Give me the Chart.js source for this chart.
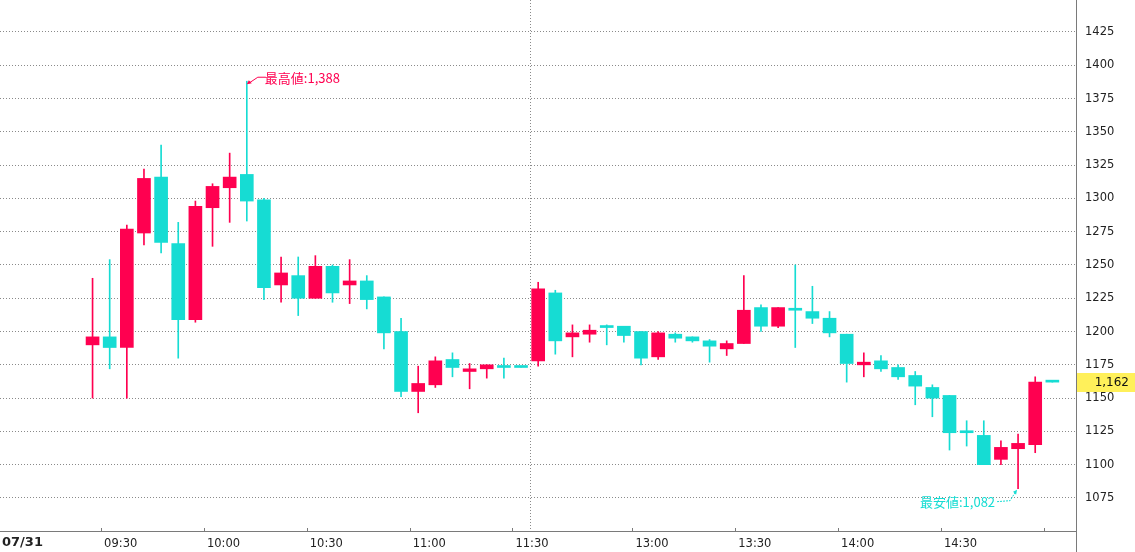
<!DOCTYPE html>
<html>
<head>
<meta charset="utf-8">
<script src="https://cdn.jsdelivr.net/npm/chart.js@4.4.1/dist/chart.umd.min.js"></script>
<style>
  html, body { margin: 0; padding: 0; background: #fff; }
  canvas { display: block; }
</style>
</head>
<body>
<canvas id="chart" width="1135" height="552"></canvas>
<script>
// 5-minute candles, 07/31
const times = ['09:25','09:30','09:35','09:40','09:45','09:50','09:55','10:00','10:05','10:10',
  '10:15','10:20','10:25','10:30','10:35','10:40','10:45','10:50','10:55','11:00',
  '11:05','11:10','11:15','11:20','11:25','11:30',
  '12:30','12:35','12:40','12:45','12:50','12:55','13:00','13:05','13:10','13:15',
  '13:20','13:25','13:30','13:35','13:40','13:45','13:50','13:55','14:00','14:05',
  '14:10','14:15','14:20','14:25','14:30','14:35','14:40','14:45','14:50','14:55','15:00'];
const opens  = [1190,1196,1188,1274,1316,1266,1209,1293,1308,1318,
  1299,1235,1242,1225,1249,1235,1238,1226,1200,1155,
  1160,1179,1170,1172,1174,1173,
  1178,1229,1196,1198,1204,1204,1200,1181,1198,1196,
  1193,1187,1191,1218,1204,1217,1215,1210,1198,1175,
  1178,1173,1167,1158,1152,1125,1122,1104,1112,1115,1162];
const highs  = [1240,1254,1280,1322,1340,1282,1298,1311,1334,1388,
  1300,1256,1256,1257,1250,1254,1242,1226,1210,1174,
  1181,1184,1176,1175,1180,1173,
  1237,1231,1205,1205,1205,1204,1200,1200,1199,1196,
  1194,1193,1242,1220,1218,1250,1234,1215,1198,1184,
  1182,1175,1170,1160,1152,1133,1133,1118,1123,1166,1162];
const lows   = [1150,1172,1150,1265,1259,1180,1207,1264,1282,1283,
  1224,1222,1212,1225,1222,1221,1217,1187,1151,1139,
  1158,1166,1157,1165,1165,1173,
  1174,1183,1181,1192,1190,1192,1175,1179,1192,1192,
  1177,1182,1191,1200,1203,1188,1206,1196,1162,1166,
  1170,1164,1145,1136,1111,1114,1100,1100,1082,1109,1162];
const closes = [1196,1188,1277,1315,1267,1209,1294,1309,1316,1298,
  1233,1244,1225,1249,1229,1238,1224,1199,1155,1161,
  1178,1173,1172,1175,1173,1173,
  1232,1193,1199,1201,1203,1197,1180,1199,1195,1193,
  1189,1191,1216,1204,1218,1216,1210,1199,1176,1177,
  1172,1166,1159,1150,1124,1124,1100,1113,1116,1162,1162];

const xLabels = ['09:30','10:00','10:30','11:00','11:30','13:00','13:30','14:00','14:30'];
const extraTicks = ['15:00'];
const yTicks = [1075,1100,1125,1150,1175,1200,1225,1250,1275,1300,1325,1350,1375,1400,1425];
const dateLabel = '07/31';
const lastPrice = 1162;
const highLabel = '最高値:1,388';
const lowLabel = '最安値:1,082';

const UP = '#ff0050';
const DOWN = '#16dcd3';

// slot index: morning from 09:00 (0..30), afternoon from 12:30 (31..61)
function slotOf(t) {
  const [h, m] = t.split(':').map(Number);
  const min = h * 60 + m;
  return min <= 690 ? (min - 540) / 5 : 31 + (min - 750) / 5;
}

const colors = times.map((t, i) => closes[i] > opens[i] ? UP : DOWN);
const bodies = times.map((t, i) => ({ x: slotOf(t) + 0.5, y: [opens[i], closes[i]] }));
const wicks = times.map((t, i) => ({ x: slotOf(t) + 0.5, y: [lows[i], highs[i]] }));

const hiIdx = highs.indexOf(Math.max(...highs));
const loIdx = lows.indexOf(Math.min(...lows));

const decor = {
  id: 'decor',
  beforeDatasetsDraw(chart) {
    const { ctx, chartArea: a, scales: { x } } = chart;
    ctx.save();
    // session break
    ctx.strokeStyle = '#8a8a8a';
    ctx.lineWidth = 1;
    ctx.setLineDash([1, 2]);
    const bx = Math.round(x.getPixelForValue(31)) + 0.5;
    ctx.beginPath();
    ctx.moveTo(bx, a.top);
    ctx.lineTo(bx, a.bottom);
    ctx.stroke();
    ctx.restore();
  },
  afterDraw(chart) {
    const { ctx, chartArea: a, scales: { x, y } } = chart;
    ctx.save();
    // axes lines
    ctx.strokeStyle = '#7a7a7a';
    ctx.lineWidth = 1;
    ctx.beginPath();
    ctx.moveTo(a.left, a.bottom + 0.5);
    ctx.lineTo(a.right, a.bottom + 0.5);
    ctx.moveTo(a.right + 0.5, 0);
    ctx.lineTo(a.right + 0.5, chart.height);
    ctx.stroke();
    // tick marks
    ctx.beginPath();
    xLabels.concat(extraTicks).forEach(t => {
      const px = Math.round(x.getPixelForValue(slotOf(t))) + 0.5;
      ctx.moveTo(px, a.bottom - 3);
      ctx.lineTo(px, a.bottom);
    });
    ctx.stroke();
    // date
    ctx.fillStyle = '#222';
    ctx.font = 'bold 13px "DejaVu Sans"';
    ctx.textBaseline = 'middle';
    ctx.textAlign = 'left';
    ctx.fillText(dateLabel, 2, 543);

    // last price box
    const py = y.getPixelForValue(lastPrice);
    ctx.fillStyle = '#fff05a';
    ctx.fillRect(a.right + 1, Math.round(py) - 9, chart.width - a.right - 1, 19);
    ctx.fillStyle = '#111';
    ctx.font = '12px "DejaVu Sans"';
    ctx.textAlign = 'right';
    ctx.fillText(lastPrice.toLocaleString('en-US'), chart.width - 6, Math.round(py) + 1);

    // high annotation
    const hx = x.getPixelForValue(slotOf(times[hiIdx]) + 0.5);
    const hy = y.getPixelForValue(highs[hiIdx]);
    ctx.strokeStyle = UP;
    ctx.fillStyle = UP;
    ctx.lineWidth = 1;
    ctx.beginPath();
    ctx.moveTo(hx + 19, hy - 4);
    ctx.lineTo(hx + 11, hy - 4);
    ctx.lineTo(hx + 2, hy + 2);
    ctx.stroke();
    ctx.beginPath();
    ctx.moveTo(hx, hy + 3);
    ctx.lineTo(hx + 5, hy + 2);
    ctx.lineTo(hx + 2, hy - 1);
    ctx.closePath();
    ctx.fill();
    ctx.font = '13px "Noto Sans CJK JP"';
    ctx.textAlign = 'left';
    ctx.fillText(highLabel, hx + 18, hy - 3);

    // low annotation
    const lx = x.getPixelForValue(slotOf(times[loIdx]) + 0.5);
    const ly = y.getPixelForValue(lows[loIdx]);
    ctx.strokeStyle = DOWN;
    ctx.fillStyle = DOWN;
    ctx.setLineDash([2, 1]);
    ctx.beginPath();
    ctx.moveTo(lx - 21, ly + 13);
    ctx.lineTo(lx - 8, ly + 12);
    ctx.lineTo(lx - 3, ly + 4);
    ctx.stroke();
    ctx.setLineDash([]);
    ctx.beginPath();
    ctx.moveTo(lx - 1, ly + 1);
    ctx.lineTo(lx - 5, ly + 3);
    ctx.lineTo(lx - 2, ly + 6);
    ctx.closePath();
    ctx.fill();
    ctx.textAlign = 'right';
    ctx.fillText(lowLabel, lx - 23, ly + 13);
    ctx.restore();
  }
};

new Chart(document.getElementById('chart'), {
  type: 'bar',
  data: {
    datasets: [
      {
        data: bodies,
        backgroundColor: colors,
        barThickness: 13,
        minBarLength: 2,
        grouped: false,
        order: 0
      },
      {
        data: wicks,
        backgroundColor: colors,
        barThickness: 1,
        grouped: false,
        order: 1
      }
    ]
  },
  options: {
    responsive: false,
    animation: false,
    layout: { padding: 0 },
    plugins: { legend: { display: false }, tooltip: { enabled: false } },
    scales: {
      x: {
        type: 'linear',
        min: 0.1,
        max: 62.88,
        offset: false,
        grid: { display: false, drawTicks: false },
        border: { display: false },
        afterBuildTicks: s => { s.ticks = xLabels.map(t => ({ value: slotOf(t) })); },
        afterFit: s => { s.height = 21; s.paddingLeft = 0; s.paddingRight = 0; },
        ticks: {
          align: 'start',
          labelOffset: 3,
          padding: 6,
          autoSkip: false,
          maxRotation: 0,
          color: '#222',
          font: { family: 'DejaVu Sans', size: 11.5 },
          callback: (v, i) => xLabels[i]
        }
      },
      y: {
        position: 'right',
        min: 1050.2,
        max: 1449,
        grid: { color: '#8a8a8a', drawTicks: false },
        border: { display: false, dash: [1, 2] },
        afterBuildTicks: s => { s.ticks = yTicks.map(v => ({ value: v })); },
        afterFit: s => { s.width = 59; s.paddingTop = 0; s.paddingBottom = 0; },
        ticks: {
          padding: 9,
          color: '#222',
          font: { family: 'DejaVu Sans', size: 11.5 },
          callback: v => String(v)
        }
      }
    }
  },
  plugins: [decor]
});
</script>
</body>
</html>
